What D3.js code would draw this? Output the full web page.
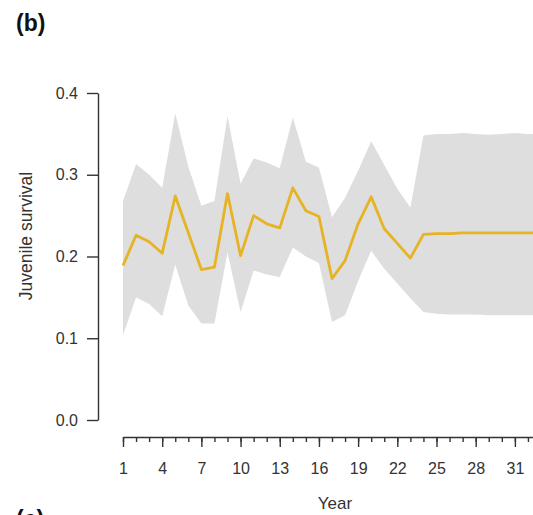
<!DOCTYPE html>
<html>
<head>
<meta charset="utf-8">
<script src="https://cdn.jsdelivr.net/npm/d3@7"></script>
<style>
  body { margin: 0; background: #fff; }
  svg { display: block; font-family: "Liberation Sans", Arial, sans-serif; }
</style>
</head>
<body>
<div id="chart"></div>
<script>
// juvenile survival by year: posterior mean and credible band
var years = d3.range(1, 34);
var survMean = [0.189, 0.226, 0.218, 0.204, 0.274, 0.229, 0.184, 0.187, 0.277, 0.201,
	0.250, 0.240, 0.235, 0.284, 0.256, 0.249, 0.173, 0.195, 0.240, 0.273,
	0.234, 0.216, 0.198, 0.227, 0.228, 0.228, 0.229, 0.229, 0.229, 0.229,
	0.229, 0.229, 0.229];
var survUpper = [0.268, 0.313, 0.300, 0.284, 0.375, 0.310, 0.262, 0.268, 0.372, 0.289,
	0.320, 0.315, 0.308, 0.370, 0.316, 0.309, 0.248, 0.272, 0.305, 0.341,
	0.312, 0.283, 0.260, 0.348, 0.350, 0.350, 0.351, 0.350, 0.349, 0.350,
	0.351, 0.350, 0.350];
var survLower = [0.104, 0.150, 0.142, 0.127, 0.190, 0.140, 0.118, 0.118, 0.205, 0.132,
	0.183, 0.178, 0.175, 0.211, 0.200, 0.192, 0.120, 0.128, 0.170, 0.207,
	0.185, 0.167, 0.149, 0.132, 0.130, 0.129, 0.129, 0.129, 0.128, 0.128,
	0.128, 0.128, 0.128];
var yTicks = [0.0, 0.1, 0.2, 0.3, 0.4];
var xMajor = [1, 4, 7, 10, 13, 16, 19, 22, 25, 28, 31];

var width = 533, height = 515;

var svg = d3.select("#chart").append("svg")
	.attr("width", width)
	.attr("height", height);

var x = d3.scaleLinear().domain([1, 33]).range([123, 541]);
var y = d3.scaleLinear().domain([0, 0.4]).range([420, 93]);

var data = years.map(function(d, i){
	return {year: d, m: survMean[i], lo: survLower[i], hi: survUpper[i]};
});

// band
svg.append("path")
	.datum(data)
	.attr("fill", "#dedede")
	.attr("d", d3.area()
		.x(function(d){ return x(d.year); })
		.y0(function(d){ return y(d.lo); })
		.y1(function(d){ return y(d.hi); }));

// mean line
svg.append("path")
	.datum(data)
	.attr("fill", "none")
	.attr("stroke", "#e6b325")
	.attr("stroke-width", 2.8)
	.attr("stroke-linejoin", "round")
	.attr("d", d3.line()
		.x(function(d){ return x(d.year); })
		.y(function(d){ return y(d.m); }));

// y axis
svg.append("g")
	.attr("transform", "translate(98,0)")
	.call(d3.axisLeft(y).tickValues(yTicks).tickFormat(d3.format(".1f"))
		.tickSize(11).tickSizeOuter(0).tickPadding(9));

// x axis, major and minor ticks
svg.append("g")
	.attr("transform", "translate(0,437)")
	.call(d3.axisBottom(x).tickValues(xMajor).tickFormat(d3.format("d"))
		.tickSize(10).tickSizeOuter(0).tickPadding(16));
svg.append("g")
	.attr("transform", "translate(0,437)")
	.call(d3.axisBottom(x).tickValues(years).tickFormat("").tickSize(5))
	.call(function(g){ g.select(".domain").remove(); });

svg.selectAll(".domain, .tick line")
	.attr("stroke", "#333")
	.attr("stroke-width", 1.4);
svg.selectAll(".tick text")
	.attr("fill", "#333")
	.style("font-size", "16px");

// labels
svg.append("text")
	.attr("x", 335).attr("y", 509)
	.attr("text-anchor", "middle")
	.attr("fill", "#333")
	.style("font-size", "17px")
	.text("Year");

svg.append("text")
	.attr("transform", "translate(32,236) rotate(-90)")
	.attr("text-anchor", "middle")
	.attr("fill", "#333")
	.style("font-size", "17.5px")
	.text("Juvenile survival");

svg.append("text")
	.attr("x", 16).attr("y", 31)
	.attr("fill", "#111")
	.style("font-size", "23px")
	.style("font-weight", "bold")
	.text("(b)");

svg.append("text")
	.attr("x", 16).attr("y", 527)
	.attr("fill", "#111")
	.style("font-size", "23px")
	.style("font-weight", "bold")
	.text("(c)");
</script>
</body>
</html>
